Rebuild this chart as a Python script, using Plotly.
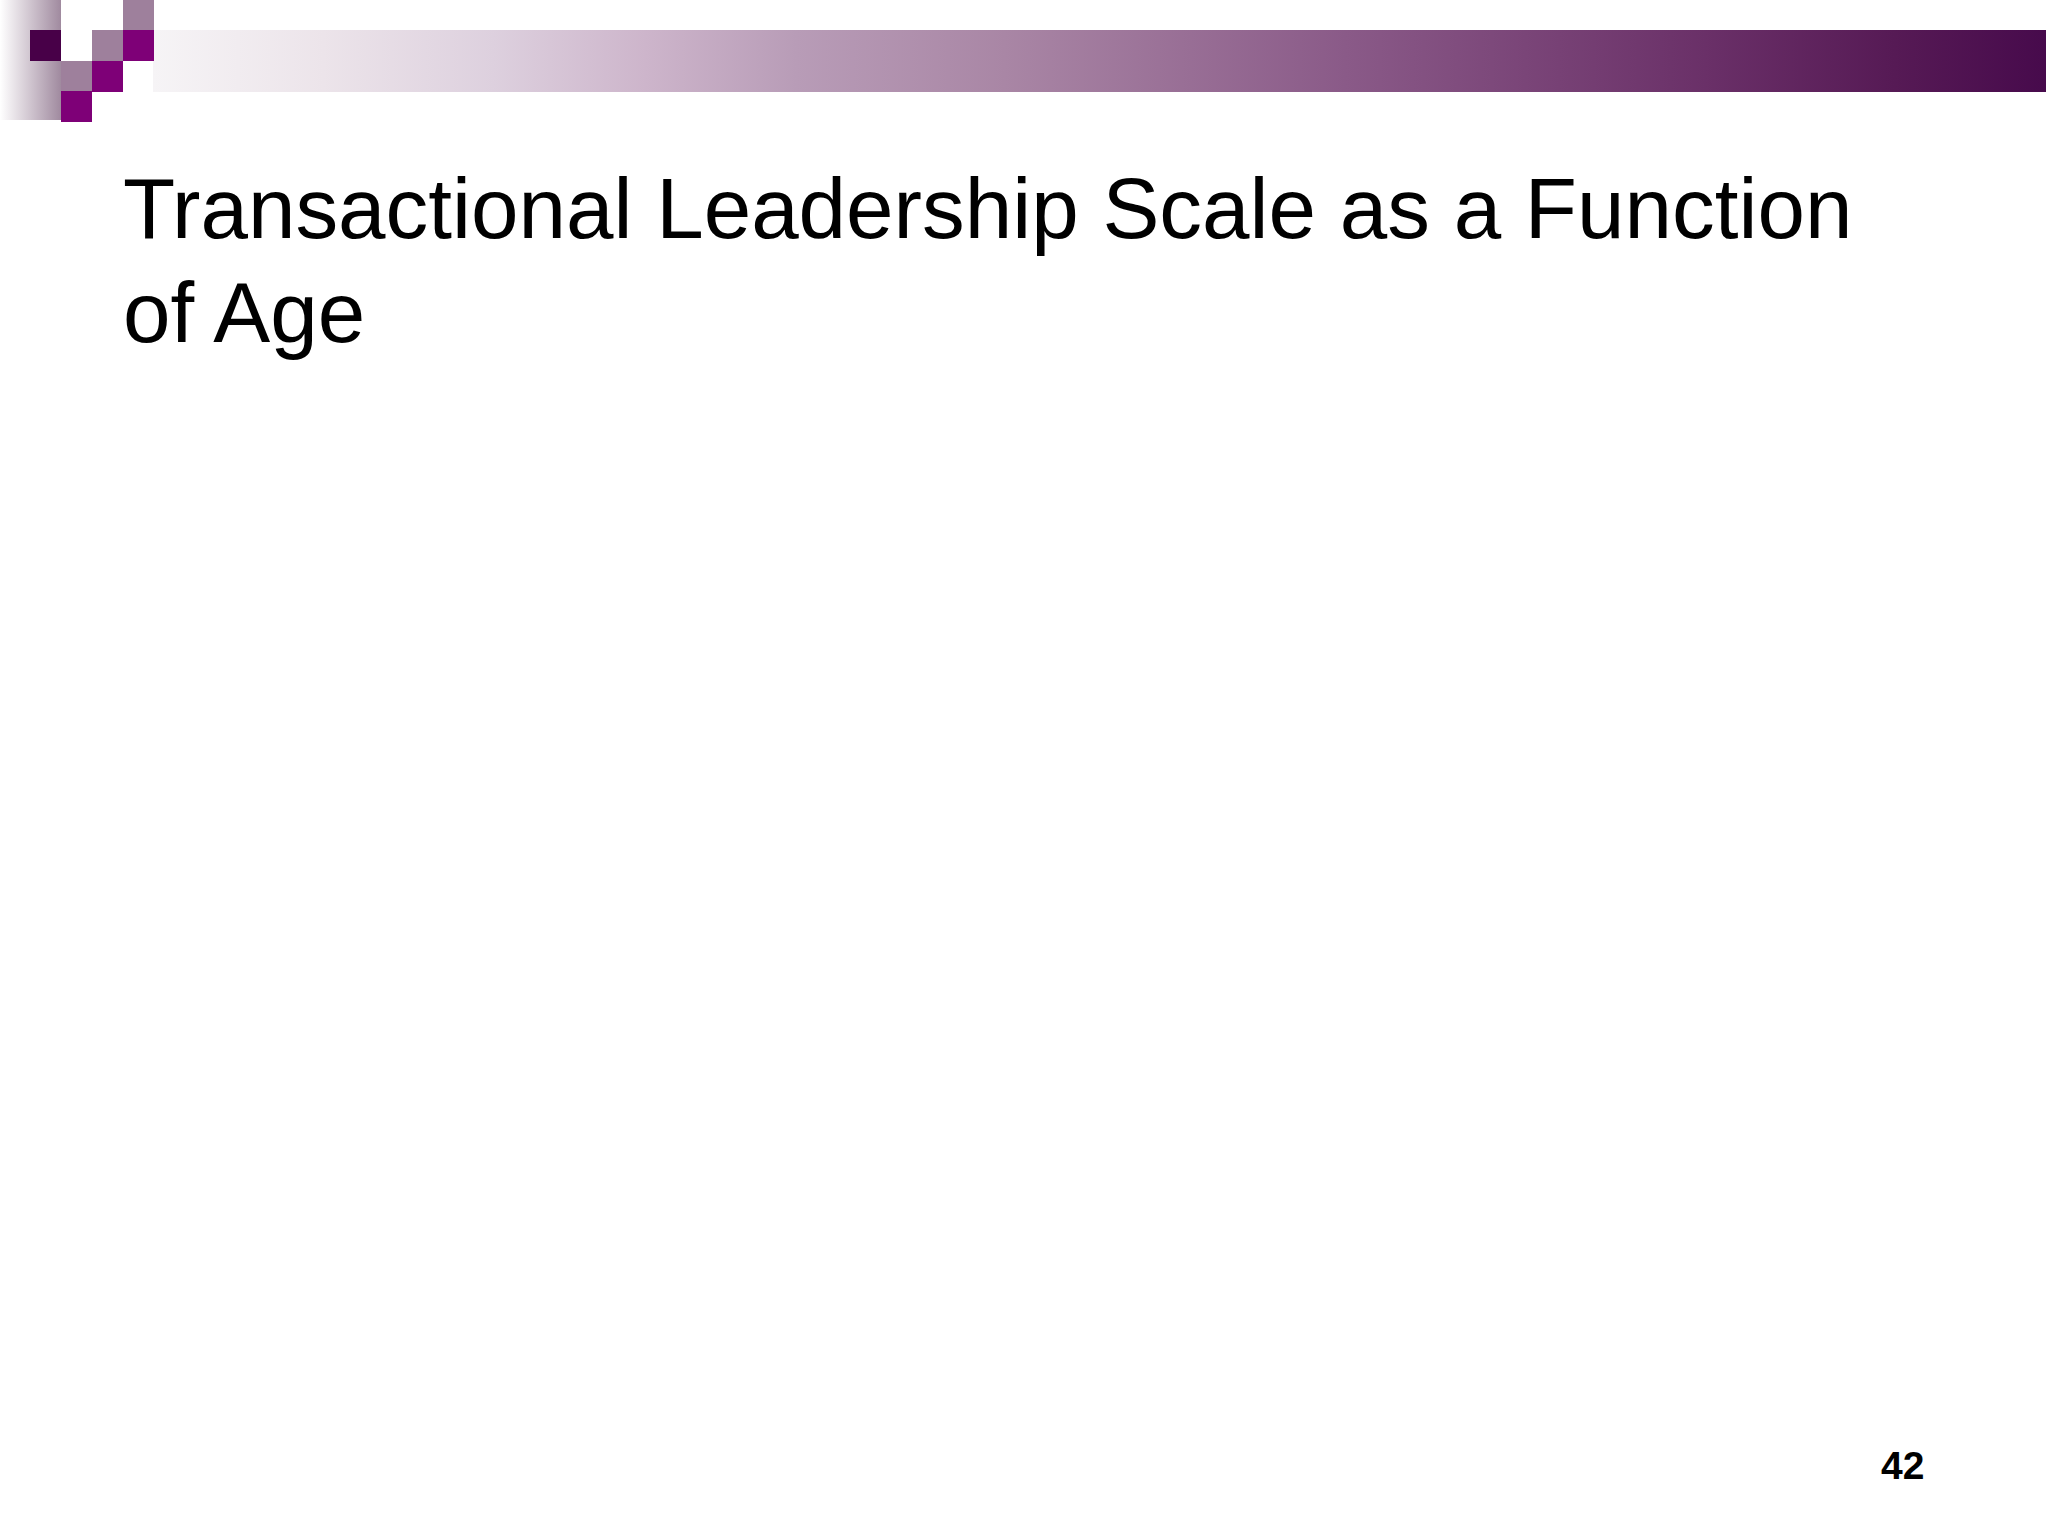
import plotly.graph_objects as go

# slide size in px
W, H = 2048, 1536

title_lines = ["Transactional Leadership Scale as a Function", "of Age"]
page_number = "42"

# gradient bar across the top (x positions and colours of the stops)
bar_x = [153, 2046]
bar_y = [30, 92]
bar_stops = [0.0, 0.09, 0.18, 0.26, 0.34, 0.45, 0.63, 0.82, 0.92, 1.0]
bar_colors = ['#f6f4f6', '#ece4ea', '#ddd0de', '#cdb5cb', '#b89cb7',
              '#a986a5', '#8a5a88', '#6a3068', '#561a55', '#470a4c']

# the little squares in the top-left corner: (x0, y0, colour)
sq_size = 31
squares = [
    (30, 30, '#480048'),
    (123, 0, '#9e809c'),
    (92, 30, '#9e809c'),
    (123, 30, '#7e0077'),
    (61, 61, '#9e809c'),
    (92, 61, '#7e0077'),
    (61, 91, '#7e0077'),
]

fig = go.Figure()

# left fade behind the squares
fig.add_trace(go.Scatter(
    x=[0, 61, 61, 0, 0], y=[0, 0, 120, 120, 0],
    mode='lines', line=dict(width=0), fill='toself',
    fillgradient=dict(type='horizontal',
                      colorscale=[[0, '#ffffff'], [1, '#a08a9f']]),
    hoverinfo='skip', showlegend=False
))

# top bar
fig.add_trace(go.Scatter(
    x=[bar_x[0], bar_x[1], bar_x[1], bar_x[0], bar_x[0]],
    y=[bar_y[0], bar_y[0], bar_y[1], bar_y[1], bar_y[0]],
    mode='lines', line=dict(width=0), fill='toself',
    fillgradient=dict(type='horizontal',
                      colorscale=[[s, c] for s, c in zip(bar_stops, bar_colors)]),
    hoverinfo='skip', showlegend=False
))

for x0, y0, c in squares:
    fig.add_shape(type='rect', x0=x0, x1=x0 + sq_size, y0=y0, y1=y0 + sq_size,
                  fillcolor=c, line=dict(width=0), layer='above')

# title, one annotation per line
for i, line in enumerate(title_lines):
    fig.add_annotation(x=121, y=239 + i * 104, text=line, showarrow=False,
                       xanchor='left', yanchor='bottom', yshift=-19,
                       font=dict(family='Liberation Sans, Arial', size=85.4, color='#000000'))

fig.add_annotation(x=1902, y=1465, text='<b>' + page_number + '</b>', showarrow=False,
                   xanchor='center', yanchor='middle',
                   font=dict(family='Liberation Sans, Arial', size=39, color='#000000'))

fig.update_layout(
    width=W, height=H,
    margin=dict(l=0, r=0, t=0, b=0),
    paper_bgcolor='white', plot_bgcolor='white',
    xaxis=dict(range=[0, W], visible=False, fixedrange=True),
    yaxis=dict(range=[H, 0], visible=False, fixedrange=True),
    showlegend=False
)

fig.write_html("out.html", config={'displayModeBar': False},
               post_script="document.body.style.margin='0';")
